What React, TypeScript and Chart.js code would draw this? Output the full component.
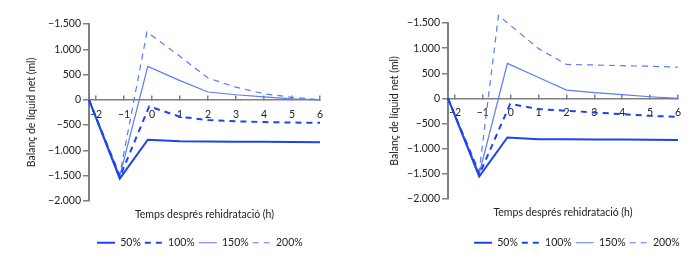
import React, { useEffect, useRef } from 'react';
import { Chart, registerables } from 'chart.js';

Chart.register(...registerables);

// ---- shared labels ----
const seriesLabels = ['50%', '100%', '150%', '200%'];
const yTickValues = [-2000, -1500, -1000, -500, 0, 500, 1000, 1500];
const yTickLabels = ['\u22122.000', '\u22121.500', '\u22121.000', '\u2212500', '0', '500', '1.000', '\u22121.500'];
const xTickValues = [-2, -1, 0, 1, 2, 3, 4, 5, 6];
const xTickLabels = ['\u22122', '\u22121', '0', '1', '2', '3', '4', '5', '6'];
const yTitle = 'Balanç de líquid net (ml)';
const xTitle = 'Temps després rehidratació (h)';

// ---- left panel ----
const leftX50 = [-2.25, -1.15, -0.15, 1, 2, 3, 4, 5, 6];
const leftY50 = [0, -1560, -790, -820, -825, -830, -830, -835, -840];
const leftX100 = [-2.25, -1.15, -0.1, 1, 2, 3, 4, 5, 6];
const leftY100 = [0, -1530, -130, -335, -400, -425, -440, -450, -455];
const leftX150 = [-2.25, -1.15, -0.15, 1, 2, 3, 4, 5, 6];
const leftY150 = [0, -1510, 660, 380, 155, 100, 60, 20, 0];
const leftX200 = [-2.25, -1.15, -0.18, 1, 2, 3, 4, 5, 6];
const leftY200 = [0, -1480, 1340, 860, 430, 250, 120, 50, 0];

// ---- right panel ----
const rightX50 = [-2.25, -1.13, -0.12, 1, 2, 3, 4, 5, 6];
const rightY50 = [0, -1555, -778, -812, -815, -818, -820, -824, -827];
const rightX100 = [-2.25, -1.13, -0.02, 1, 2, 3, 4, 5, 6];
const rightY100 = [0, -1520, -110, -213, -246, -280, -315, -348, -368];
const rightX150 = [-2.25, -1.13, -0.12, 1, 2, 3, 4, 5, 6];
const rightY150 = [0, -1500, 696, 415, 164, 115, 74, 33, 0];
const rightX200 = [-2.25, -1.13, -0.44, 1, 2, 3, 4, 5, 6];
const rightY200 = [0, -1450, 1650, 990, 675, 665, 650, 640, 620];

const DARK = '#1c44ee';
const LIGHT = '#5a7df0';
const AXIS = '#808080';
const TEXT = '#222';
const FONT = 'Lato, "DejaVu Sans", sans-serif';
const FS = 10.5;

const styles = [
  { color: DARK, width: 2, dash: [] as number[] },
  { color: DARK, width: 2, dash: [6, 5] },
  { color: LIGHT, width: 1.2, dash: [] as number[] },
  { color: LIGHT, width: 1.2, dash: [6, 5] },
];

type PanelProps = {
  xs: number[][];
  ys: number[][];
  yAxisWidth: number;
  yTitlePad: number;
  padTop: number;
  padRight: number;
  legendStart: number;
  xtPadTop: number;
  xtPadBottom: number;
};

function Panel(p: PanelProps) {
  const ref = useRef<HTMLCanvasElement | null>(null);
  useEffect(() => {
    if (!ref.current) return;
    const datasets = seriesLabels.map((label, i) => ({
      label,
      data: p.xs[i].map((x, j) => ({ x, y: p.ys[i][j] })),
      borderColor: styles[i].color,
      backgroundColor: styles[i].color,
      borderWidth: styles[i].width,
      borderDash: styles[i].dash,
      pointRadius: 0,
      tension: 0,
      fill: false,
      clip: false,
    }));
    const legendShift = {
      id: 'legendShift',
      afterLayout(chart: any) {
        const lg = chart.legend;
        if (!lg) return;
        const w = lg.right - lg.left;
        lg.left = p.legendStart - 4;
        lg.right = lg.left + w;
      },
    };
    const chart = new Chart(ref.current, {
      type: 'line',
      data: { datasets },
      plugins: [legendShift],
      options: {
        animation: false,
        responsive: false,
        layout: { padding: { top: p.padTop, right: p.padRight, left: 0, bottom: 7 } },
        plugins: {
          tooltip: { enabled: false },
          legend: {
            position: 'bottom',
            align: 'start',
            labels: {
              usePointStyle: true,
              pointStyle: 'line',
              pointStyleWidth: 18,
              boxHeight: FS,
              padding: 4,
              color: TEXT,
              font: { family: FONT, size: FS },
              generateLabels: (c: any) =>
                c.data.datasets.map((d: any, i: number) => ({
                  text: d.label,
                  datasetIndex: i,
                  fillStyle: 'rgba(0,0,0,0)',
                  strokeStyle: styles[i].color,
                  lineWidth: styles[i].width,
                  lineDash: styles[i].dash,
                  pointStyle: 'line',
                  fontColor: TEXT,
                  hidden: false,
                })),
            },
          },
        },
        scales: {
          x: {
            type: 'linear',
            min: -2.25,
            max: 6,
            position: { y: 0 },
            afterBuildTicks: (s: any) => {
              s.ticks = xTickValues.map((v) => ({ value: v }));
            },
            ticks: {
              color: TEXT,
              font: { family: FONT, size: FS },
              padding: 13,
              autoSkip: false,
              maxRotation: 0,
              callback: (v: any) => {
                const k = xTickValues.indexOf(Number(v));
                return k >= 0 ? xTickLabels[k] : '';
              },
            },
            grid: { drawOnChartArea: false, drawTicks: true, tickLength: -5, color: AXIS, lineWidth: 1.5 },
            border: { display: true, color: AXIS, width: 1.5 },
          },
          xt: {
            type: 'linear',
            position: 'bottom',
            min: 0,
            max: 1,
            grid: { display: false, drawTicks: false },
            border: { display: false },
            ticks: { display: false },
            title: {
              display: true,
              text: xTitle,
              color: TEXT,
              font: { family: FONT, size: FS },
              padding: { top: p.xtPadTop, bottom: p.xtPadBottom },
            },
          },
          y: {
            type: 'linear',
            min: -2000,
            max: 1500,
            position: 'left',
            afterBuildTicks: (s: any) => {
              s.ticks = yTickValues.map((v) => ({ value: v }));
            },
            afterFit: (s: any) => {
              s.width = p.yAxisWidth;
            },
            ticks: {
              color: TEXT,
              font: { family: FONT, size: FS },
              padding: 2,
              callback: (v: any) => {
                const k = yTickValues.indexOf(Number(v));
                return k >= 0 ? yTickLabels[k] : '';
              },
            },
            grid: { drawOnChartArea: false, drawTicks: true, tickLength: 6, color: AXIS, lineWidth: 1.5 },
            border: { display: true, color: AXIS, width: 2 },
            title: {
              display: true,
              text: yTitle,
              color: TEXT,
              font: { family: FONT, size: FS },
              padding: { top: p.yTitlePad, bottom: 0 },
            },
          },
        },
      },
    } as any);
    return () => chart.destroy();
  }, []);
  return <canvas ref={ref} width={350} height={265} style={{ display: 'block', width: 350, height: 265 }} />;
}

export default function App() {
  return (
    <div style={{ position: 'absolute', left: 0, top: 0, width: 700, height: 265, background: '#fff' }}>
      <div style={{ position: 'absolute', left: 0, top: 0 }}>
        <Panel
          xs={[leftX50, leftX100, leftX150, leftX200]}
          ys={[leftY50, leftY100, leftY150, leftY200]}
          yAxisWidth={89}
          yTitlePad={25}
          padTop={24}
          padRight={30}
          legendStart={97}
          xtPadTop={7}
          xtPadBottom={13}
        />
      </div>
      <div style={{ position: 'absolute', left: 350, top: 0 }}>
        <Panel
          xs={[rightX50, rightX100, rightX150, rightX200]}
          ys={[rightY50, rightY100, rightY150, rightY200]}
          yAxisWidth={98}
          yTitlePad={38}
          padTop={23}
          padRight={22}
          legendStart={124}
          xtPadTop={7}
          xtPadBottom={15}
        />
      </div>
    </div>
  );
}
